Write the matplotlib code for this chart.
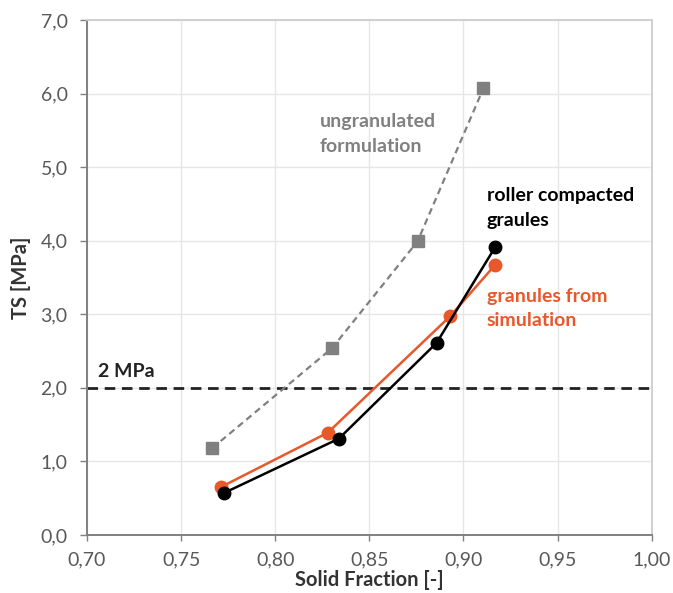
import matplotlib
matplotlib.use("Agg")
import matplotlib.pyplot as plt
from matplotlib.ticker import FixedLocator, FixedFormatter

plt.rcParams['font.family'] = ['Lato', 'DejaVu Sans']

# data
sf_ungranulated = [0.7665, 0.8302, 0.8756, 0.9106]
ts_ungranulated = [1.18, 2.54, 3.99, 6.07]

sf_roller = [0.7727, 0.8338, 0.8857, 0.9168]
ts_roller = [0.57, 1.31, 2.61, 3.91]

sf_simulation = [0.7710, 0.8279, 0.8928, 0.9168]
ts_simulation = [0.65, 1.39, 2.97, 3.67]

threshold = 2.0

x_ticks = [0.70, 0.75, 0.80, 0.85, 0.90, 0.95, 1.00]
x_tick_labels = ["0,70", "0,75", "0,80", "0,85", "0,90", "0,95", "1,00"]
y_ticks = [0, 1, 2, 3, 4, 5, 6, 7]
y_tick_labels = ["0,0", "1,0", "2,0", "3,0", "4,0", "5,0", "6,0", "7,0"]

orange = "#E8582A"
gray = "#808080"

fig = plt.figure(figsize=(6.73, 5.93), dpi=100)
ax = fig.add_axes([0.1293, 0.0978, 0.9683 - 0.1293, 0.9663 - 0.0978])

ax.set_xlim(0.70, 1.00)
ax.set_ylim(0, 7)

ax.xaxis.set_major_locator(FixedLocator(x_ticks))
ax.xaxis.set_major_formatter(FixedFormatter(x_tick_labels))
ax.yaxis.set_major_locator(FixedLocator(y_ticks))
ax.yaxis.set_major_formatter(FixedFormatter(y_tick_labels))

ax.grid(True, color="#e6e6e6", linewidth=1.0, zorder=0)
ax.set_axisbelow(True)

for side in ["top", "right"]:
    ax.spines[side].set_color("#d0d0d0")
    ax.spines[side].set_linewidth(1.4)
for side in ["left", "bottom"]:
    ax.spines[side].set_color("#808080")
    ax.spines[side].set_linewidth(1.4)

ax.tick_params(axis="both", direction="out", width=1, color="#808080",
               labelsize=14, labelcolor="#595959")
ax.tick_params(axis="x", length=4, pad=8)
ax.tick_params(axis="y", length=5, pad=9)

ax.axhline(threshold, color="#222222", linestyle=(0, (3.8, 2.4)), linewidth=2.0, zorder=2)

ax.plot(sf_ungranulated, ts_ungranulated, color=gray, linestyle=(0, (3, 2)),
        linewidth=1.6, marker="s", markersize=8.5, markerfacecolor=gray,
        markeredgecolor=gray, zorder=3)
ax.plot(sf_simulation, ts_simulation, color=orange, linewidth=1.8, marker="o",
        markersize=9, markerfacecolor=orange, markeredgecolor=orange, zorder=4)
ax.plot(sf_roller, ts_roller, color="black", linewidth=1.8, marker="o",
        markersize=9, markerfacecolor="black", markeredgecolor="black", zorder=5)

ax.set_xlabel("Solid Fraction [-]", fontsize=14.5, fontweight="bold", color="#333333", labelpad=1)
ax.set_ylabel("TS [MPa]", fontsize=14.5, fontweight="bold", color="#333333", labelpad=7)

ax.text(0.706, 2.22, "2 MPa", fontsize=14, fontweight="bold", color="#222222",
        ha="left", va="center")
ax.text(0.8235, 5.45, "ungranulated\nformulation", fontsize=14, fontweight="bold",
        color=gray, ha="left", va="center", linespacing=1.55)
ax.text(0.9125, 4.44, "roller compacted\ngraules", fontsize=14, fontweight="bold",
        color="black", ha="left", va="center", linespacing=1.55)
ax.text(0.9125, 3.08, "granules from\nsimulation", fontsize=14, fontweight="bold",
        color=orange, ha="left", va="center", linespacing=1.55)

fig.savefig("out.png", dpi=100, facecolor="white")
